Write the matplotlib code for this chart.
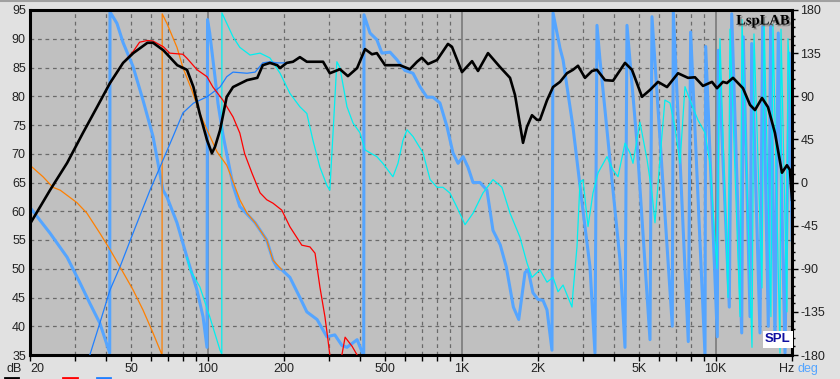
import matplotlib
matplotlib.use('Agg')
import matplotlib.pyplot as plt
import matplotlib.patheffects as pe
from matplotlib.lines import Line2D
from matplotlib.ticker import FixedLocator, NullLocator, MultipleLocator
import numpy as np

# ---------------- data (frequency Hz, value) ----------------
# total SPL (dB) - black
total_spl = [(20, 57.8), (24, 63.7), (28, 68.4), (32.3, 73.6), (36.7, 78.1), (41.3, 82.3),
             (46.5, 85.8), (51, 87.5), (58, 89.3), (61, 89.3), (67, 88.0), (76, 85.4),
             (83, 84.6), (88, 81.6), (93, 77.1), (99.5, 72.4), (104, 70.1), (107, 71.2),
             (112, 74.1), (119, 79.9), (126, 81.6), (143, 82.8), (157, 83.2), (165, 85.4),
             (176, 85.8), (188, 85.4), (193, 84.9), (205, 85.8), (217, 86.0), (231, 86.8),
             (246, 86.0), (285, 86.0), (303, 84.0), (332, 84.7), (357, 83.5), (388, 84.9),
             (417, 88.2), (444, 87.3), (464, 87.5), (500, 85.4), (572, 85.4), (626, 84.7),
             (668, 86.0), (698, 86.7), (738, 85.6), (801, 86.3), (884, 89.1), (917, 88.6),
             (1004, 84.2), (1100, 86.1), (1161, 84.4), (1271, 87.5), (1416, 85.1),
             (1552, 83.2), (1624, 80.2), (1746, 71.9), (1810, 74.7), (1894, 76.7),
             (1982, 75.9), (2036, 75.9), (2170, 79.3), (2292, 81.6), (2442, 82.5),
             (2600, 84.0), (2746, 84.6), (2874, 85.3), (3062, 83.2), (3264, 84.4),
             (3414, 84.6), (3672, 82.8), (3948, 82.7), (4401, 85.8), (4688, 84.6),
             (5134, 79.9), (5520, 81.1), (5936, 82.5), (6441, 81.6), (7117, 84.0),
             (7790, 83.2), (8300, 83.3), (8924, 81.8), (9683, 82.5), (10134, 81.4),
             (10696, 82.5), (11090, 82.3), (11716, 83.2), (12824, 81.4), (13667, 78.5),
             (14300, 77.6), (15240, 79.7), (16090, 78.1), (17140, 73.6), (18260, 66.7),
             (19100, 68.0), (19630, 67.2), (20000, 62.0)]

# woofer SPL (dB) - red
woofer_spl = [(40, 81.2), (46.5, 85.8), (51, 87.8), (54, 89.4), (58, 89.7), (61, 89.6),
              (67, 88.6), (71, 87.5), (80, 87.3), (83, 86.6), (91, 84.6), (99.5, 83.4),
              (105, 81.6), (115, 79.3), (126, 76.4), (134, 73.6), (140, 70.0), (150, 66.5),
              (161, 63.2), (171, 62.0), (181, 61.4), (196, 60.2), (211, 57.3), (235, 54.1),
              (253, 53.8), (265, 52.7), (277, 46.8), (290, 41.6), (298, 37.6), (303, 35.0),
              (320, np.nan), (338, 35.0), (348, 38.1), (371, 36.5), (388, 35.0)]

# tweeter SPL (dB) - blue thin
tweeter_spl = [(34.4, 35.0), (37.7, 40.6), (41.3, 46.3), (45.2, 50.3), (50.9, 56.2),
               (59.4, 63.7), (65, 67.7), (73, 72.9), (80, 77.1), (88, 78.8), (99.5, 79.9),
               (112, 81.6), (119, 83.4), (126, 84.2), (143, 84.0), (154, 84.2), (165, 85.8),
               (176, 86.0), (188, 85.8), (205, 85.8), (217, 86.0), (231, 86.8), (246, 86.0)]

# woofer phase (deg) - orange
woofer_phase = [(20, 18), (22.5, 6), (24.6, -5), (26.3, -8), (30.6, -21), (33.5, -32),
                (37.7, -53), (41.3, -70), (45.2, -88), (50.9, -112), (55.7, -133),
                (61, -157), (66.2, -180), (66.3, 176), (69.2, 166), (75.8, 141), (80, 120),
                (86.8, 96), (93.3, 72), (99.5, 55), (109, 32), (119, 18), (126, 1),
                (134, -18), (143, -32), (154, -42), (171, -60), (181, -81), (196, -91)]

# total phase (deg) - light blue thick
total_phase = [(20, -26), (24, -53), (28, -78), (31.5, -105), (34.4, -126), (37.7, -147),
               (41.2, -178), (41.3, 178), (44, 166), (46.5, 146), (50.9, 121), (55.7, 86),
               (61, 48), (66.8, -8), (69.2, -15), (75.8, -42), (83, -78), (90.8, -112),
               (96, -140), (99.5, -172), (100, 170), (102, 156), (107, 110), (110, 82),
               (115, 50), (119, 30), (126, -3), (134, -25), (154, -42), (171, -60),
               (181, -81), (188, -89), (196, -91), (211, -99), (231, -120), (246, -135),
               (270, -143), (295, -161), (317, -159), (338, -170), (354, -172), (388, -164),
               (406, -177), (412, -180), (413, 175), (436, 156), (464, 149), (486, 135),
               (523, 136), (557, 128), (598, 117), (644, 114), (686, 100), (731, 89),
               (772, 89), (822, 83), (877, 58), (925, 31), (969, 20), (1014, 27), (1060, 16),
               (1110, 0), (1182, 0), (1259, -8), (1330, -50), (1420, -65), (1500, -88),
               (1600, -130), (1680, -143), (1778, -94), (1828, -91), (1910, -115),
               (2000, -122), (2093, -123), (2170, -133), (2270, -175), (2292, 177),
               (2442, 140), (2510, 128), (2746, 58), (3006, -29), (3204, -88), (3352, -178),
               (3414, 164), (3508, 128), (3842, 23), (4206, -81), (4401, -172), (4481, 164),
               (4907, 41), (5520, -164), (5620, 173), (6758, -150), (6820, 178),
               (7810, -166), (7980, 157), (9090, -180), (9146, 142), (10160, -161),
               (10250, 138), (11330, -130), (11580, 176), (12680, -157), (12860, 152),
               (13670, -140), (13880, 145), (14960, -157), (15330, 163), (16130, -150),
               (16480, 163), (17140, -167), (17660, 156), (18770, -178), (19520, 135),
               (20000, -60)]

# tweeter phase (deg) - cyan
tweeter_phase = [(83, -78), (85.3, -91), (93.3, -109), (102, -140), (112, -175),
                 (113.8, -179), (113.9, 177), (126, 152), (134, 141), (147, 133), (161, 135),
                 (176, 130), (193, 114), (211, 93), (231, 79), (246, 72), (260, 44),
                 (277, 16), (295, -3), (303, -8), (312, 52), (323, 126), (332, 120),
                 (354, 79), (374, 62), (398, 52), (417, 34), (436, 31), (464, 27), (490, 20),
                 (513, 13), (537, 6), (562, 20), (588, 44), (610, 55), (644, 48), (705, 31),
                 (752, 3), (801, -5), (845, -5), (900, -11), (960, -26), (1032, -44),
                 (1110, -32), (1214, -11), (1330, 3), (1442, -5), (1552, -32), (1698, -57),
                 (1810, -84), (1894, -99), (2036, -91), (2170, -104), (2292, -99),
                 (2398, -114), (2510, -107), (2722, -130), (2746, -115), (2848, -67),
                 (2926, 0), (3006, 3), (3148, -46), (3292, -11), (3446, 10), (3738, 27),
                 (3948, 13), (4130, 6), (4401, 41), (4604, 31), (4732, 20), (5040, 63),
                 (5374, 24), (5620, -11), (5776, -42), (6040, 24), (6320, 86), (6618, 83),
                 (6920, 58), (7245, 20), (7580, 100), (7930, 86), (8532, 65), (9090, 52),
                 (9510, 20), (9950, -60), (10134, -90), (10410, 150), (11200, -120),
                 (11400, 160), (12490, -140), (12710, 170), (13916, -172), (14170, 155),
                 (15240, -110), (15520, 170), (16520, -140), (16830, 165), (17940, -178),
                 (18100, 160), (19100, -135), (19280, 150), (20000, 60)]

freq_ticks = [20, 30, 40, 50, 60, 70, 80, 90, 100, 200, 300, 400, 500, 600, 700, 800, 900,
              1000, 2000, 3000, 4000, 5000, 6000, 7000, 8000, 9000, 10000, 20000]
freq_labels = {20: '20', 50: '50', 100: '100', 200: '200', 500: '500', 1000: '1K',
               2000: '2K', 5000: '5K', 10000: '10K'}
db_ticks = list(range(35, 96, 5))
deg_ticks = list(range(-180, 181, 45))
grid_deg = list(range(-150, 151, 30))
decade_lines = [100, 1000, 10000]

# ---------------- figure ----------------
W, H = 840, 379
L, R, T, B = 30, 792, 10, 355
plt.rcParams['font.family'] = ['Liberation Sans', 'DejaVu Sans']
fig = plt.figure(figsize=(W / 100, H / 100), dpi=100, facecolor='#e1e1e1')

ax_ph = fig.add_axes([L / W, (H - B) / H, (R - L) / W, (B - T) / H])
ax_ph.set_facecolor('#c0c0c0')
ax_ph.set_xscale('log')
ax_ph.set_xlim(20, 20000)
ax_ph.set_ylim(-180, 180)

ax_db = ax_ph.twinx()
ax_db.patch.set_visible(False)
ax_db.set_ylim(35, 95)

# grid
for g in grid_deg:
    ax_ph.axhline(g, color='#6a6a6a', lw=0.9, ls=(0, (3, 3)), zorder=0.5)
for f in freq_ticks[1:-1]:
    if f in decade_lines:
        ax_ph.axvline(f, color='#7a7a7a', lw=1.2, zorder=0.5)
    else:
        ax_ph.axvline(f, color='#6a6a6a', lw=0.9, ls=(0, (3, 3)), zorder=0.5)

def xy(pts):
    a = np.array(pts, dtype=float)
    return a[:, 0], a[:, 1]

# phase curves
f, v = xy(total_phase)
ax_ph.plot(f, v, color='#55a5ff', lw=2.2, zorder=2)
f, v = xy(tweeter_phase)
ax_ph.plot(f, v, color='#00f0f0', lw=0.9, zorder=2.2)
f, v = xy(woofer_phase)
ax_ph.plot(f, v, color='#ff8000', lw=0.9, zorder=2.4)

# SPL curves
f, v = xy(tweeter_spl)
ax_db.plot(f, v, color='#2080ff', lw=0.9, zorder=3)
f, v = xy(woofer_spl)
ax_db.plot(f, v, color='#ff0000', lw=0.9, zorder=3.2)
f, v = xy(total_spl)
ax_db.plot(f, v, color='black', lw=1.9, zorder=3.4)

# spines
for s in ax_ph.spines.values():
    s.set_color('black')
    s.set_linewidth(2.2)
for s in ax_db.spines.values():
    s.set_visible(False)

# ticks
ax_ph.xaxis.set_major_locator(FixedLocator(freq_ticks))
ax_ph.xaxis.set_minor_locator(NullLocator())
ax_ph.set_xticklabels([freq_labels.get(t, '') for t in freq_ticks])
ax_ph.tick_params(axis='x', direction='out', length=4, width=1, pad=2,
                  labelsize=9, labelcolor='#222222')
ax_ph.get_xticklabels()[0].set_horizontalalignment('left')
ax_ph.get_xticklabels()[0].set_x(20)

ax_ph.yaxis.tick_right()
ax_ph.set_yticks(deg_ticks)
ax_ph.set_yticklabels([str(t) for t in deg_ticks])
ax_ph.yaxis.set_minor_locator(MultipleLocator(9))
ax_ph.tick_params(axis='y', which='major', direction='out', length=4, width=1, pad=2,
                  labelsize=9, labelcolor='#222222', right=True, left=False)
ax_ph.tick_params(axis='y', which='minor', direction='out', length=2, width=1,
                  right=True, left=False)

ax_db.yaxis.tick_left()
ax_db.set_yticks(db_ticks)
ax_db.set_yticklabels([str(t) for t in db_ticks])
ax_db.tick_params(axis='y', direction='out', length=0, pad=3, labelsize=9,
                  labelcolor='#222222', left=True, right=False)

# annotations
fig.text(14 / W, 1 - 369 / H, 'dB', ha='center', va='center', fontsize=9, color='#222222')
fig.text(787 / W, 1 - 369 / H, 'Hz', ha='center', va='center', fontsize=9, color='#222222')
fig.text(808 / W, 1 - 369 / H, 'deg', ha='center', va='center', fontsize=9, color='#55a5ff')

ax_ph.text(0.962, 0.968, 'LspLAB', transform=ax_ph.transAxes, ha='center', va='center',
           fontsize=10.5, fontweight='bold', family='Liberation Serif', color='black',
           zorder=7,
           path_effects=[pe.withSimplePatchShadow(offset=(1.2, -1.2),
                                                  shadow_rgbFace='#7a7a7a', alpha=0.9)])

ax_db.text(0.9815, 0.045, 'SPL', transform=ax_ph.transAxes, ha='center', va='center',
           fontsize=9.5, fontweight='bold', color='#1010a0', zorder=8,
           bbox=dict(boxstyle='square,pad=0.18', facecolor='white', edgecolor='none'))

# legend marks at bottom
for x0, x1, c in [(5, 18, 'black'), (63, 77, '#ff0000'), (97, 110, '#2080ff')]:
    fig.add_artist(Line2D([x0 / W, x1 / W], [1 - 378 / H] * 2, color=c, lw=2))

# outer frame
fig.add_artist(Line2D([0, 1], [1 - 0.5 / H] * 2, color='#a0a0a0', lw=1.5))

fig.savefig('out.png', dpi=100, facecolor=fig.get_facecolor())
